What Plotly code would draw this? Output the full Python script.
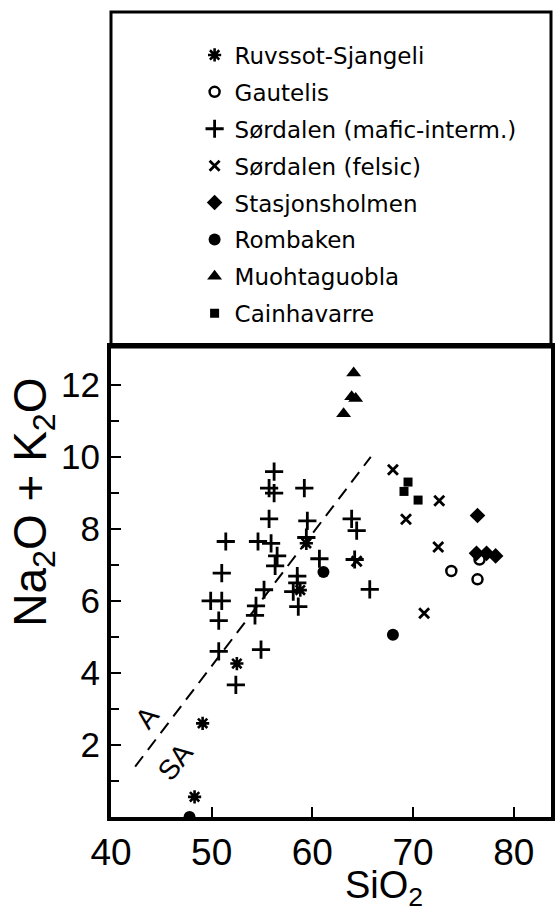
import plotly.graph_objects as go

# ---- data (SiO2, Na2O+K2O) ----
ruvssot_x = [48.3, 49.1, 52.5, 59.4, 58.8]
ruvssot_y = [0.56, 2.6, 4.26, 7.6, 6.3]

gautelis_x = [73.8, 76.4, 76.6]
gautelis_y = [6.83, 6.6, 7.15]

sord_mafic_x = [49.9, 51.0, 50.7, 50.7, 51.0, 51.4, 52.4, 54.6, 55.9, 54.9,
                54.4, 54.3, 55.2, 56.5, 56.3, 55.7, 55.7, 56.2, 56.2, 59.2,
                59.5, 59.4, 60.7, 58.5, 58.5, 58.1, 58.6, 63.9, 64.4, 64.2, 65.7]
sord_mafic_y = [6.0, 6.0, 5.45, 4.6, 6.77, 7.65, 3.67, 7.65, 7.6, 4.65,
                5.86, 5.6, 6.31, 7.25, 6.97, 8.28, 9.13, 8.99, 9.59, 9.13,
                8.22, 7.76, 7.17, 6.69, 6.5, 6.26, 5.84, 8.28, 7.95, 7.15, 6.32]

sord_felsic_x = [68.0, 72.6, 69.3, 72.5, 71.1, 64.4]
sord_felsic_y = [9.64, 8.78, 8.27, 7.5, 5.66, 7.1]

stasjon_x = [76.4, 76.3, 77.3, 78.2]
stasjon_y = [8.37, 7.32, 7.32, 7.25]

rombaken_x = [61.1, 68.0, 47.8]
rombaken_y = [6.8, 5.06, 0.0]

muoht_x = [64.1, 63.9, 64.3, 63.1]
muoht_y = [12.33, 11.67, 11.62, 11.2]

cainh_x = [69.5, 69.1, 70.5]
cainh_y = [9.3, 9.04, 8.8]

# alkaline / subalkaline boundary
boundary_x = [42.4, 65.8]
boundary_y = [1.4, 10.0]

x_ticks = [40, 50, 60, 70, 80]
y_ticks = [2, 4, 6, 8, 10, 12]

series = [
    ("Ruvssot-Sjangeli", ruvssot_x, ruvssot_y, "asterisk-open", 11, 2.6),
    ("Gautelis", gautelis_x, gautelis_y, "circle-open", 10, 2.5),
    ("Sørdalen (mafic-interm.)", sord_mafic_x, sord_mafic_y, "cross-thin-open", 13, 2.8),
    ("Sørdalen (felsic)", sord_felsic_x, sord_felsic_y, "x-thin-open", 10, 2.8),
    ("Stasjonsholmen", stasjon_x, stasjon_y, "diamond", 12, 0),
    ("Rombaken", rombaken_x, rombaken_y, "circle", 12, 0),
    ("Muohtaguobla", muoht_x, muoht_y, "triangle-up", 13, 0),
    ("Cainhavarre", cainh_x, cainh_y, "square", 9, 0),
]

fig = go.Figure()
fig.add_trace(go.Scatter(x=boundary_x, y=boundary_y, mode="lines",
                         line=dict(color="black", width=2, dash="13px,8px"),
                         showlegend=False, hoverinfo="skip"))
for name, xs, ys, sym, size, lw in series:
    fig.add_trace(go.Scatter(
        x=xs, y=ys, mode="markers", name=name, legendgroup=name,
        marker=dict(symbol=sym, size=size, color="black",
                    line=dict(color="black", width=lw)),
    ))

font_main = "Liberation Sans, Arial, sans-serif"

fig.update_layout(
    width=558, height=913,
    margin=dict(l=111, r=3, t=347, b=96),
    paper_bgcolor="white", plot_bgcolor="white",
    showlegend=True,
    legend=dict(x=0.19, y=1.667, xanchor="left", yanchor="top",
                font=dict(family="DejaVu Sans, sans-serif", size=23, color="black"),
                traceorder="grouped", tracegroupgap=4,
                bgcolor="rgba(0,0,0,0)", borderwidth=0),
    xaxis=dict(range=[40, 83.7], tickvals=x_ticks, ticks="inside", ticklen=10,
               tickwidth=2, tickcolor="black", showgrid=False, zeroline=False,
               showline=True, linewidth=4, linecolor="black", mirror=True,
               tickfont=dict(family=font_main, size=37, color="black")),
    yaxis=dict(range=[0, 13.05], tickvals=y_ticks, ticks="inside", ticklen=10,
               tickwidth=2, tickcolor="black", showgrid=False, zeroline=False,
               showline=True, linewidth=4, linecolor="black", mirror=True,
               tickfont=dict(family=font_main, size=35, color="black"),
               minor=dict(tickvals=[1, 3, 5, 7, 9, 11], ticks="inside",
                          ticklen=8, tickwidth=2, tickcolor="black")),
    shapes=[dict(type="rect", xref="paper", yref="paper", x0=0, x1=1,
                 y0=1, y1=1.7128, line=dict(color="black", width=3))],
    annotations=[
        dict(text="Na<sub>2</sub>O + K<sub>2</sub>O", xref="paper", yref="paper",
             x=-0.178, y=0.67, textangle=-90, showarrow=False,
             xanchor="center", yanchor="middle",
             font=dict(family=font_main, size=46, color="black")),
        dict(text="SiO<sub>2</sub>", xref="paper", yref="paper",
             x=0.62, y=-0.15, showarrow=False, xanchor="center", yanchor="middle",
             font=dict(family=font_main, size=38, color="black")),
        dict(text="A", x=43.6, y=2.75, xref="x", yref="y", showarrow=False,
             textangle=-52, font=dict(family=font_main, size=28, color="black")),
        dict(text="SA", x=46.4, y=1.55, xref="x", yref="y", showarrow=False,
             textangle=-52, font=dict(family=font_main, size=28, color="black")),
    ],
)

fig.write_html("out.html")
